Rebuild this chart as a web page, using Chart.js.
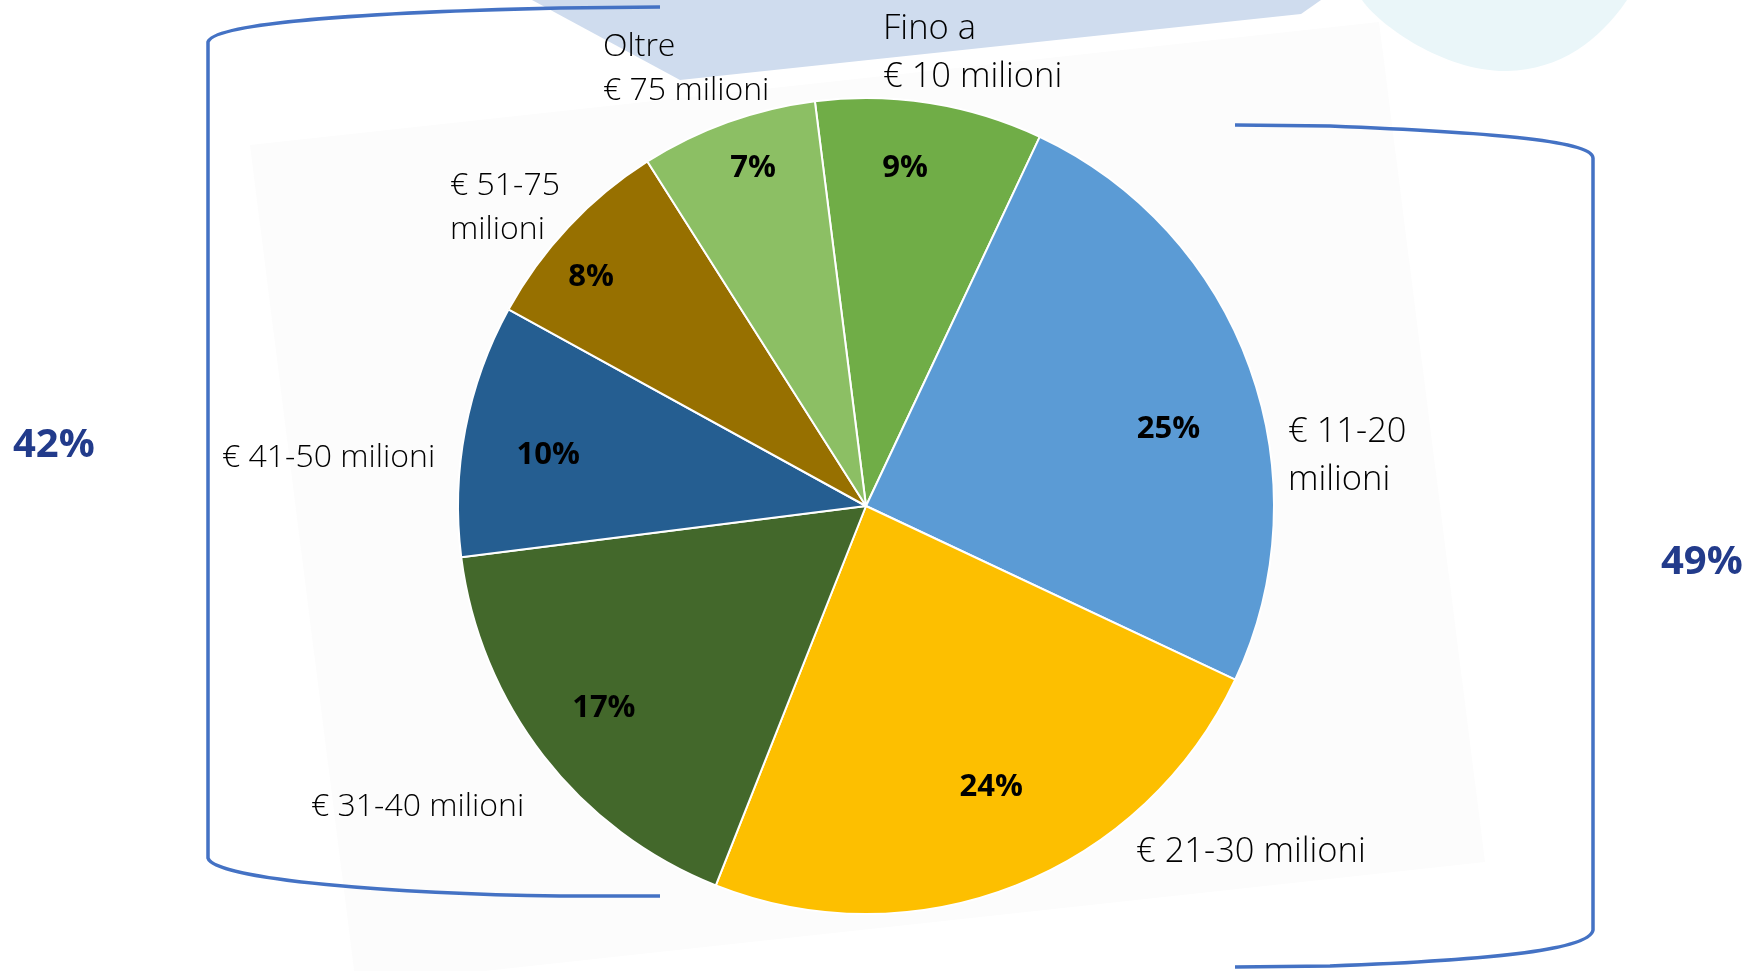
<!DOCTYPE html>
<html>
<head>
<meta charset="utf-8">
<script src="https://cdn.jsdelivr.net/npm/chart.js@4/dist/chart.umd.min.js"></script>
<style>
  body { margin: 0; background: #fff; }
  #wrap { width: 1744px; height: 971px; position: relative; }
</style>
</head>
<body>
<div id="wrap"><canvas id="myChart" width="1744" height="971"></canvas></div>
<script>
// categories (line breaks as in the picture)
var categories = [
    ['Fino a', '€ 10 milioni'],
    ['€ 11-20', 'milioni'],
    ['€ 21-30 milioni'],
    ['€ 31-40 milioni'],
    ['€ 41-50 milioni'],
    ['€ 51-75', 'milioni'],
    ['Oltre', '€ 75 milioni']
];
var shares = [9, 25, 24, 17, 10, 8, 7];
var sliceColors = ['#70ad47', '#5b9bd5', '#fdbf00', '#43682b', '#255e91', '#977000', '#8cbf64'];

// the two bracket totals
var groupTotals = ['42%', '49%'];

// where the outer labels sit, relative to the pie centre (left x, first baseline), font size, line gap
var labelOffsets = [[17, -467], [422, -64], [270, 356], [-555, 310], [-644, -39], [-416, -311], [-263, -450]];
var labelSizes = [34.5, 34.5, 34.5, 32, 32, 32, 32];
var labelGaps = [48, 48, 48, 44, 44, 44, 44];
// percent labels: distance from centre as part of the radius, angle nudge in degrees
var pctRadius = [0.833, 0.765, 0.755, 0.811, 0.789, 0.877, 0.873];
var pctNudge = [-2.4, 5.5, -2.4, 0.2, -1.7, -3.4, 1.3];

const backgroundPlugin = {
    id: 'bg',
    beforeDraw(chart) {
        var ctx = chart.ctx;
        ctx.save();
        ctx.fillStyle = '#fff';
        ctx.fillRect(0, 0, chart.width, chart.height);

        // pale cyan blob top right
        ctx.fillStyle = '#eaf6f9';
        ctx.beginPath();
        ctx.moveTo(1362, 0);
        ctx.bezierCurveTo(1380, 26, 1445, 72, 1507, 71);
        ctx.bezierCurveTo(1560, 70, 1600, 40, 1627, 0);
        ctx.closePath();
        ctx.fill();

        // faint tilted sheet behind the pie
        ctx.fillStyle = '#fcfcfc';
        ctx.beginPath();
        ctx.moveTo(250, 145);
        ctx.lineTo(1379, 22);
        ctx.lineTo(1485, 862);
        ctx.lineTo(356, 985);
        ctx.closePath();
        ctx.fill();

        // light blue band at the top
        ctx.fillStyle = '#cfdcee';
        ctx.beginPath();
        ctx.moveTo(532, 0);
        ctx.lineTo(680, 80);
        ctx.lineTo(1301, 14);
        ctx.lineTo(1321, 0);
        ctx.closePath();
        ctx.fill();
        ctx.restore();
    },
    beforeDatasetsDraw(chart) {
        var ctx = chart.ctx;
        ctx.save();
        ctx.strokeStyle = '#4472c4';
        ctx.lineWidth = 3.5;

        // left bracket
        ctx.beginPath();
        ctx.moveTo(660, 7);
        ctx.lineTo(560, 8);
        ctx.bezierCurveTo(380, 12, 214, 22, 208, 42);
        ctx.lineTo(208, 858);
        ctx.bezierCurveTo(214, 880, 400, 894, 560, 896);
        ctx.lineTo(660, 896);
        ctx.stroke();

        // right bracket
        ctx.beginPath();
        ctx.moveTo(1235, 125);
        ctx.lineTo(1330, 126);
        ctx.bezierCurveTo(1480, 132, 1592, 140, 1593, 158);
        ctx.lineTo(1593, 930);
        ctx.bezierCurveTo(1590, 954, 1440, 962, 1330, 966);
        ctx.lineTo(1235, 967);
        ctx.stroke();

        ctx.fillStyle = '#223b8b';
        ctx.font = 'bold 40px "Open Sans", sans-serif';
        ctx.textBaseline = 'alphabetic';
        ctx.textAlign = 'left';
        ctx.fillText(groupTotals[0], 13, 457);
        ctx.fillText(groupTotals[1], 1661, 574);
        ctx.restore();
    },
    afterDraw(chart) {
        var ctx = chart.ctx;
        var meta = chart.getDatasetMeta(0);
        var total = shares.reduce((a, b) => a + b, 0);
        ctx.save();
        meta.data.forEach((arc, i) => {
            var p = arc.getProps(['x', 'y', 'startAngle', 'endAngle', 'outerRadius'], true);
            var mid = (p.startAngle + p.endAngle) / 2 + pctNudge[i] * Math.PI / 180;
            var r = p.outerRadius * pctRadius[i];

            ctx.fillStyle = '#000';
            ctx.font = 'bold 31px "Open Sans", sans-serif';
            ctx.textAlign = 'center';
            ctx.textBaseline = 'middle';
            ctx.fillText(Math.round(shares[i] / total * 100) + '%', p.x + Math.cos(mid) * r, p.y + Math.sin(mid) * r);

            ctx.fillStyle = '#000';
            ctx.font = '300 ' + labelSizes[i] + 'px "Open Sans", sans-serif';
            ctx.textAlign = 'left';
            ctx.textBaseline = 'alphabetic';
            var lines = categories[i];
            for (let k = 0; k < lines.length; k++) {
                ctx.fillText(lines[k], p.x + labelOffsets[i][0], p.y + labelOffsets[i][1] + k * labelGaps[i]);
            }
        });
        ctx.restore();
    }
};

var ctx = document.getElementById('myChart');
var myPieChart = new Chart(ctx, {
    type: 'pie',
    data: {
        labels: categories.map(c => c.join(' ')),
        datasets: [{
            data: shares,
            backgroundColor: sliceColors,
            borderColor: '#ffffff',
            borderWidth: 2,
            radius: 408
        }]
    },
    options: {
        responsive: false,
        animation: false,
        rotation: -7.2,
        layout: { padding: { left: 458, right: 470, top: 98, bottom: 57 } },
        plugins: {
            legend: { display: false },
            tooltip: { enabled: false }
        }
    },
    plugins: [backgroundPlugin]
});
</script>
</body>
</html>
